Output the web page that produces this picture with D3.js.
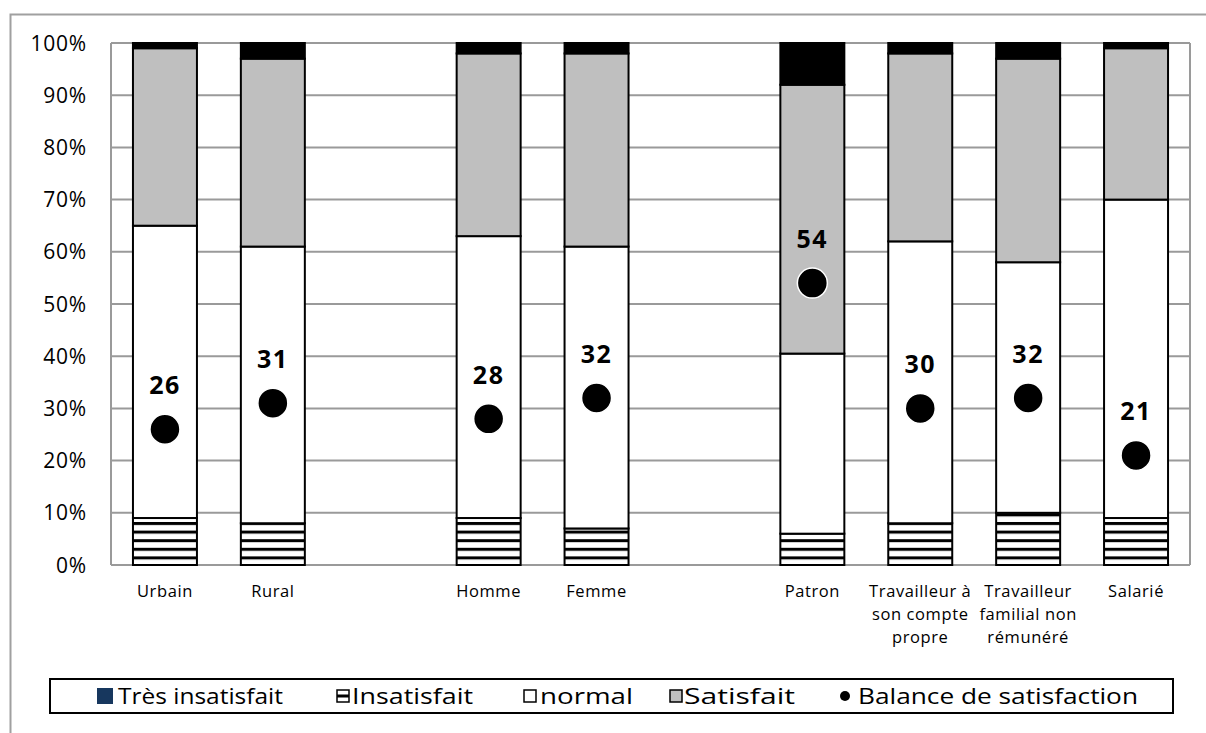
<!DOCTYPE html>
<html><head><meta charset="utf-8">
<script src="https://cdn.jsdelivr.net/npm/d3@7"></script>
<style>body{margin:0;background:#fff}svg{display:block}text{font-family:"Open Sans",sans-serif}</style>
</head><body>
<svg id="c" width="1206" height="733"></svg>
<script>
const slots = ["Urbain","Rural","g1","Homme","Femme","g2","Patron","Travailleur à son compte propre","Travailleur familial non rémunéré","Salarié"];
const categories = ["Urbain","Rural","Homme","Femme","Patron","Travailleur à son compte propre","Travailleur familial non rémunéré","Salarié"];
const catLines = [["Urbain"],["Rural"],["Homme"],["Femme"],["Patron"],["Travailleur à","son compte","propre"],["Travailleur","familial non","rémunéré"],["Salarié"]];
const insatisfait = [9, 8, 9, 7, 6, 8, 10, 9];
const normal = [56, 53, 54, 54, 34.5, 54, 48, 61];
const satisfait = [34, 36, 35, 37, 51.5, 36, 39, 29];
const tresTop = [1, 3, 2, 2, 8, 2, 3, 1];
const balance = [26, 31, 28, 32, 54, 30, 32, 21];
const yTicks = [0,10,20,30,40,50,60,70,80,90,100];
const legendLabels = ["Très insatisfait","Insatisfait","normal","Satisfait","Balance de satisfaction"];

const svg = d3.select("#c");
const L=111, R=1190, T=43, B=565;
const x = d3.scaleBand().domain(slots).range([L,R]).paddingInner(0.407).paddingOuter(0.2035);
const y = d3.scaleLinear().domain([0,100]).range([B,T]);

const defs = svg.append("defs");
const pat = defs.append("pattern").attr("id","stripes").attr("patternUnits","userSpaceOnUse")
  .attr("width",10).attr("height",8.6).attr("y",B);
pat.append("rect").attr("width",10).attr("height",8.6).attr("fill","#fff");
pat.append("rect").attr("y",0).attr("width",10).attr("height",3).attr("fill","#000");

// outer frame
svg.append("path").attr("d","M10.5,733 V14.5 H1206").attr("fill","none").attr("stroke","#a0a0a0").attr("stroke-width",2);

// grid
svg.append("g").selectAll("line").data(yTicks).join("line")
  .attr("x1",L).attr("x2",R).attr("y1",d=>y(d)).attr("y2",d=>y(d))
  .attr("stroke","#9a9a9a").attr("stroke-width",2);
svg.append("line").attr("x1",L).attr("x2",L).attr("y1",T).attr("y2",B).attr("stroke","#9a9a9a").attr("stroke-width",2);
svg.append("line").attr("x1",R).attr("x2",R).attr("y1",T).attr("y2",B).attr("stroke","#9a9a9a").attr("stroke-width",2);

// y labels
svg.append("g").selectAll("text").data(yTicks).join("text")
  .attr("x",87).attr("y",d=>y(d)+7.5).attr("text-anchor","end")
  .attr("font-size",21).attr("letter-spacing",0.8).attr("fill","#000").text(d=>d+"%");

// stacked bars
const series = [
  {vals:insatisfait, fill:"url(#stripes)"},
  {vals:normal, fill:"#ffffff"},
  {vals:satisfait, fill:"#bfbfbf"},
  {vals:tresTop, fill:"#000000"}
];
const g = svg.append("g");
categories.forEach((c,i)=>{
  let base=0;
  series.forEach(s=>{
    const v=s.vals[i];
    g.append("rect").attr("x",x(c)).attr("width",x.bandwidth())
      .attr("y",y(base+v)).attr("height",y(base)-y(base+v))
      .attr("fill",s.fill).attr("stroke","#000").attr("stroke-width",2);
    base+=v;
  });
});

// points
svg.append("g").selectAll("circle").data(categories).join("circle")
  .attr("cx",d=>x(d)+x.bandwidth()/2).attr("cy",(d,i)=>y(balance[i])).attr("r",15)
  .attr("fill","#000").attr("stroke","#fff").attr("stroke-width",1.5);
svg.append("g").selectAll("text").data(categories).join("text")
  .attr("x",d=>x(d)+x.bandwidth()/2).attr("y",(d,i)=>y(balance[i])-35)
  .attr("text-anchor","middle").attr("font-size",25).attr("letter-spacing",1.5).attr("font-weight","bold").text((d,i)=>balance[i]);

// x labels
categories.forEach((c,i)=>{
  const t = svg.append("text").attr("x",x(c)+x.bandwidth()/2).attr("y",597).attr("text-anchor","middle").attr("font-size",16.5).attr("letter-spacing",0.6);
  catLines[i].forEach((ln,j)=>t.append("tspan").attr("x",x(c)+x.bandwidth()/2).attr("dy",j?23:0).text(ln));
});

// legend
svg.append("rect").attr("x",50).attr("y",679).attr("width",1123).attr("height",34).attr("fill","#fff").attr("stroke","#000").attr("stroke-width",2);
const legPos = [
  {x:97, tx:118, w:165, type:"sq", fill:"#17375e"},
  {x:335, tx:352, w:121, type:"stripe"},
  {x:522, tx:540, w:93, type:"sq", fill:"#fff"},
  {x:668, tx:684, w:111, type:"sq", fill:"#bfbfbf"},
  {x:838, tx:858, w:280, type:"dot"}
];
legendLabels.forEach((label,i)=>{
  const l = legPos[i];
  if(l.type==="sq"){
    svg.append("rect").attr("x",l.x+(l.fill==="#17375e"?0:2)).attr("y",l.fill==="#17375e"?688:690)
      .attr("width",l.fill==="#17375e"?16:12).attr("height",l.fill==="#17375e"?16:12)
      .attr("fill",l.fill).attr("stroke",l.fill==="#17375e"?"none":"#000").attr("stroke-width",1.5);
  } else if(l.type==="stripe"){
    svg.append("rect").attr("x",l.x+2).attr("y",690).attr("width",12).attr("height",12).attr("fill","#fff").attr("stroke","#000").attr("stroke-width",1.5);
    svg.append("rect").attr("x",l.x+2).attr("y",694.5).attr("width",12).attr("height",3).attr("fill","#000");
  } else {
    svg.append("circle").attr("cx",l.x+7).attr("cy",696).attr("r",5).attr("fill","#000");
  }
  svg.append("text").attr("x",l.tx).attr("y",704).attr("font-size",22)
    .attr("textLength",l.w).attr("lengthAdjust","spacingAndGlyphs").text(label);
});
</script>
</body></html>
